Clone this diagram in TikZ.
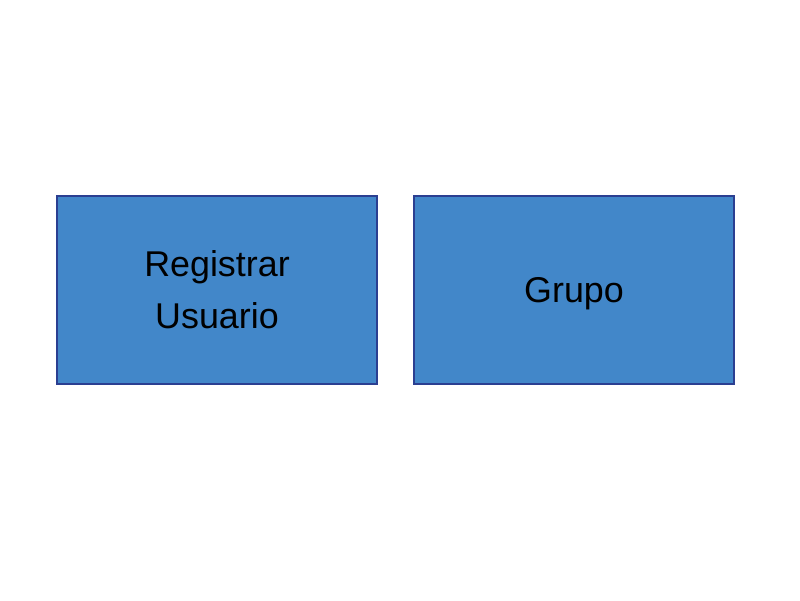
\documentclass[tikz,border=0pt]{standalone}
\usepackage{fontspec}
\setmainfont{Liberation Sans}
\definecolor{boxfill}{HTML}{4287C9}
\definecolor{boxline}{HTML}{2B3F91}
\begin{document}
\begin{tikzpicture}[
  caja/.style={draw=boxline, fill=boxfill, line width=1.2pt, minimum width=8cm, minimum height=4.7cm, align=center, font=\fontsize{25.5}{37}\selectfont}
]
\useasboundingbox (0,0) rectangle (20,15);
\node[caja] at (5.425,7.75) (registrar) {Registrar\\Usuario};
\node[caja, text height=22.8pt] at (14.35,7.75) (grupo) {Grupo};
\end{tikzpicture}
\end{document}
